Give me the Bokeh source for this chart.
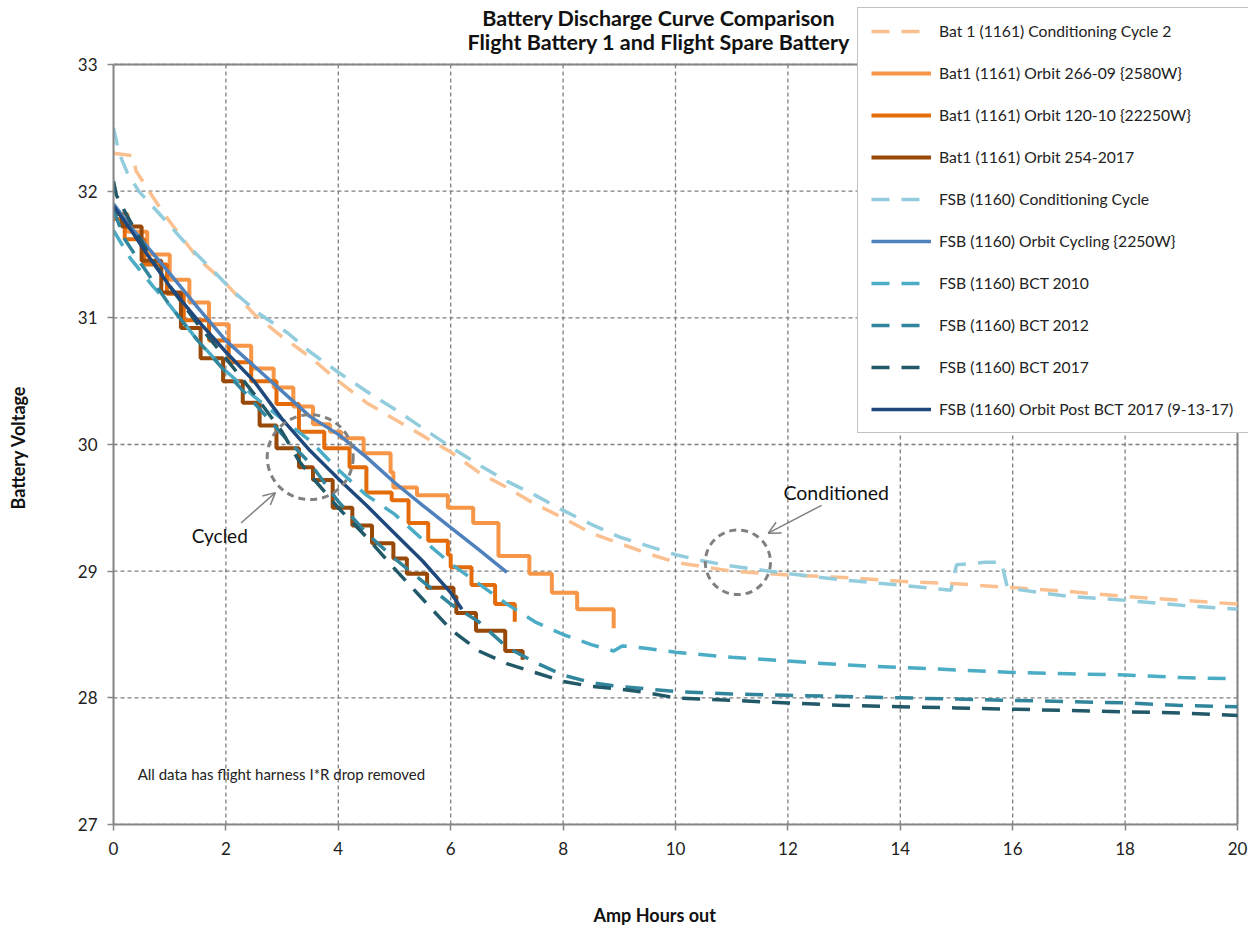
from bokeh.plotting import figure
from bokeh.models import Range1d, FixedTicker, Legend, LegendItem, Label, Arrow, OpenHead
from bokeh.embed import file_html
from bokeh.resources import INLINE

# ---------------- data (Amp-hours out, battery voltage) ----------------
x_ticks = [0, 2, 4, 6, 8, 10, 12, 14, 16, 18, 20]
y_ticks = [27, 28, 29, 30, 31, 32, 33]

title_lines = ["Battery Discharge Curve Comparison", "Flight Battery 1 and Flight Spare Battery"]
x_title = "Amp Hours out"
y_title = "Battery Voltage"

series_names = [
    "Bat 1 (1161) Conditioning Cycle 2",
    "Bat1 (1161) Orbit 266-09 {2580W}",
    "Bat1 (1161) Orbit 120-10 {22250W}",
    "Bat1 (1161) Orbit 254-2017",
    "FSB (1160) Conditioning Cycle",
    "FSB (1160) Orbit Cycling {2250W}",
    "FSB (1160) BCT 2010",
    "FSB (1160) BCT 2012",
    "FSB (1160) BCT 2017",
    "FSB (1160) Orbit Post BCT 2017 (9-13-17)",
]

bat1_cond_ah = [0, 0.35, 0.4, 0.75, 1, 1.5, 2, 2.5, 3, 3.5, 4, 4.5, 5, 5.5, 6, 6.5, 7, 7.5, 8, 8.5,
                9, 9.5, 10, 11, 12, 13, 14, 15, 16, 17, 18, 19, 20]
bat1_cond_v = [32.30, 32.28, 32.16, 31.92, 31.76, 31.47, 31.27, 31.03, 30.85, 30.69, 30.50, 30.33,
               30.20, 30.07, 29.94, 29.78, 29.66, 29.53, 29.42, 29.30, 29.22, 29.14, 29.07, 29.00,
               28.97, 28.95, 28.92, 28.90, 28.87, 28.84, 28.80, 28.77, 28.74]

bat1_o266_ah = [0, 0.25, 0.6, 1.0, 1.35, 1.7, 2.05, 2.45, 2.85, 3.2, 3.55, 3.85, 4.05, 4.45, 4.93,
                4.98, 5.4, 5.95, 6.4, 6.85, 7.4, 7.8, 8.25, 8.9]
bat1_o266_v = [31.82, 31.68, 31.50, 31.30, 31.12, 30.95, 30.78, 30.60, 30.45, 30.30, 30.16, 30.10,
               30.05, 29.93, 29.78, 29.66, 29.60, 29.50, 29.38, 29.12, 28.98, 28.83, 28.70, 28.55]

bat1_o120_ah = [0, 0.2, 0.55, 0.95, 1.25, 1.7, 2.05, 2.45, 2.9, 3.3, 3.75, 4.2, 4.5, 4.95, 5.25,
                5.6, 5.95, 6.0, 6.37, 6.79, 7.14]
bat1_o120_v = [31.78, 31.62, 31.42, 31.19, 30.98, 30.82, 30.65, 30.50, 30.32, 30.10, 29.97, 29.82,
               29.62, 29.56, 29.38, 29.24, 29.13, 29.03, 28.89, 28.74, 28.60]

bat1_o254_ah = [0, 0.15, 0.5, 0.85, 1.2, 1.55, 1.95, 2.3, 2.6, 2.9, 3.3, 3.55, 3.9, 4.25, 4.6,
                4.98, 5.22, 5.58, 6.05, 6.1, 6.45, 6.97, 7.28]
bat1_o254_v = [31.82, 31.72, 31.45, 31.20, 30.92, 30.68, 30.50, 30.33, 30.15, 29.97, 29.82, 29.72,
               29.50, 29.36, 29.22, 29.10, 28.98, 28.87, 28.80, 28.67, 28.53, 28.37, 28.30]

fsb_cond_ah = [0, 0.1, 0.25, 0.45, 0.9, 1.3, 1.8, 2.1, 2.6, 3.1, 3.5, 4, 4.5, 5, 5.5, 6, 6.5, 7,
               7.5, 8, 8.5, 9, 9.5, 10, 10.5, 11, 12, 13, 14, 14.9, 15.0, 15.5, 15.8, 15.9, 16, 17,
               18, 19, 20]
fsb_cond_v = [32.50, 32.30, 32.14, 32.00, 31.78, 31.58, 31.36, 31.22, 31.03, 30.88, 30.73, 30.57,
              30.42, 30.28, 30.13, 29.98, 29.84, 29.71, 29.60, 29.48, 29.37, 29.27, 29.20, 29.13,
              29.08, 29.04, 28.98, 28.93, 28.89, 28.85, 29.05, 29.07, 29.07, 28.88, 28.86, 28.80,
              28.77, 28.73, 28.70]

fsb_orbit_ah = [0, 0.3, 0.66, 1, 1.5, 2, 2.5, 3, 3.5, 4, 4.5, 5, 5.5, 5.9, 6.5, 7]
fsb_orbit_v = [31.90, 31.72, 31.53, 31.35, 31.08, 30.82, 30.62, 30.42, 30.22, 30.08, 29.90, 29.70,
               29.52, 29.38, 29.17, 28.99]

bct2010_ah = [0, 0.3, 0.7, 1, 1.5, 2, 2.5, 3, 3.5, 4, 4.5, 5, 5.5, 6, 6.5, 7, 7.5, 8, 8.5, 8.9,
              9.05, 9.5, 10, 11, 12, 13, 14, 15, 16, 17, 18, 19, 20]
bct2010_v = [31.69, 31.47, 31.25, 31.10, 30.82, 30.58, 30.38, 30.20, 30.03, 29.80, 29.60, 29.45,
             29.25, 29.06, 28.90, 28.74, 28.60, 28.50, 28.42, 28.37, 28.41, 28.39, 28.36, 28.32,
             28.29, 28.26, 28.24, 28.22, 28.20, 28.19, 28.18, 28.16, 28.15]

bct2012_ah = [0, 0.2, 0.5, 1, 1.5, 2, 2.5, 3, 3.5, 4, 4.5, 5, 5.5, 6, 6.5, 7, 7.5, 8, 8.5, 9, 10,
              11, 12, 13, 14, 15, 16, 17, 18, 19, 20]
bct2012_v = [31.85, 31.62, 31.42, 31.10, 30.82, 30.57, 30.33, 30.08, 29.85, 29.55, 29.30, 29.10,
             28.92, 28.74, 28.60, 28.40, 28.28, 28.18, 28.12, 28.09, 28.05, 28.03, 28.02, 28.01,
             28.00, 27.99, 27.98, 27.97, 27.96, 27.94, 27.93]

bct2017_ah = [0, 0.05, 0.2, 0.35, 0.7, 1, 1.5, 2, 2.5, 3, 3.3, 3.5, 4, 4.5, 5, 5.5, 6, 6.5, 7, 7.5,
              8, 8.5, 9, 9.5, 10, 11, 12, 13, 14, 15, 16, 17, 18, 19, 20]
bct2017_v = [32.08, 31.97, 31.84, 31.72, 31.45, 31.25, 30.95, 30.68, 30.40, 30.10, 29.87, 29.76,
             29.50, 29.27, 29.02, 28.78, 28.54, 28.37, 28.27, 28.20, 28.13, 28.09, 28.07, 28.04,
             28.00, 27.98, 27.96, 27.94, 27.93, 27.92, 27.91, 27.90, 27.89, 27.88, 27.86]

post_ah = [0, 0.3, 0.6, 1, 1.5, 2, 2.5, 3, 3.5, 4, 4.5, 5, 5.5, 6, 6.2]
post_v = [31.88, 31.70, 31.50, 31.25, 30.98, 30.73, 30.50, 30.20, 29.95, 29.73, 29.52, 29.30,
          29.08, 28.83, 28.70]

note_text = "All data has  flight harness I*R drop removed"
cycled_text = "Cycled"
conditioned_text = "Conditioned"

# ---------------- layout constants ----------------
FONT = "Lato"
GRAY = "#868686"
GRID = "#7f7f7f"
W, H = 1248, 930
LEFT, BOTTOM = 113, 106
PX_PER_AH = 56.2
PX_PER_V = 126.67
x_lo, x_hi = x_ticks[0], x_ticks[-1]
y_lo, y_hi = y_ticks[0], y_ticks[-1]
# the frame reaches the top and right edges of the canvas so that the legend and the
# title (which overlap the area outside the gridded plot area) are not clipped
x_end = x_lo + (W - LEFT) / PX_PER_AH
y_end = y_lo + (H - BOTTOM) / PX_PER_V
NBSP = "\u00a0"

p = figure(width=W, height=H, output_backend="svg", toolbar_location=None, title=None,
           x_range=Range1d(x_lo, x_end), y_range=Range1d(y_lo, y_end),
           min_border_left=LEFT, min_border_right=0, min_border_top=0, min_border_bottom=BOTTOM,
           background_fill_color="white", border_fill_color="white", outline_line_color=None)
p.grid.visible = False

# axes
p.xaxis.ticker = FixedTicker(ticks=x_ticks)
p.yaxis.ticker = FixedTicker(ticks=y_ticks)
p.xaxis.bounds = (x_lo, x_hi)
p.yaxis.bounds = (y_lo, y_hi)
for ax in (p.xaxis[0], p.yaxis[0]):
    ax.axis_line_color = GRAY
    ax.axis_line_width = 2
    ax.major_tick_line_color = GRAY
    ax.major_tick_line_width = 1.5
    ax.major_tick_out = 6
    ax.major_tick_in = 0
    ax.minor_tick_line_color = None
    ax.major_label_text_font = FONT
    ax.major_label_text_font_size = "17px"
    ax.major_label_text_color = "#222222"
    ax.axis_label_text_font = FONT
    ax.axis_label_text_font_style = "bold"
    ax.axis_label_text_color = "#111111"
    ax.axis_label_text_font_size = "18px"
# axis titles are centred on the frame; trailing no-break spaces nudge them to the
# position they have in the original chart
p.xaxis.axis_label = x_title + NBSP * 12
p.xaxis.major_label_standoff = 11
p.xaxis.axis_label_standoff = 46
p.yaxis.axis_label = y_title + NBSP * 16
p.yaxis.major_label_standoff = 10
p.yaxis.axis_label_standoff = 46

# dashed grid limited to the plot area, plus solid top/right border of the plot area
p.segment(x0=x_ticks, y0=[y_lo] * len(x_ticks), x1=x_ticks, y1=[y_hi] * len(x_ticks),
          line_color=GRID, line_width=1.3, line_dash="4 3")
p.segment(x0=[x_lo] * len(y_ticks), y0=y_ticks, x1=[x_hi] * len(y_ticks), y1=y_ticks,
          line_color=GRID, line_width=1.3, line_dash="4 3")
p.segment(x0=[x_lo, x_hi], y0=[y_hi, y_lo], x1=[x_hi, x_hi], y1=[y_hi, y_hi],
          line_color=GRAY, line_width=2)

LW = 3.5
DASH = "18 12"
r1 = p.line(bat1_cond_ah, bat1_cond_v, line_color="#FAC090", line_width=LW, line_dash=DASH)
r2 = p.step(bat1_o266_ah, bat1_o266_v, mode="after", line_color="#F79646", line_width=4)
r3 = p.step(bat1_o120_ah, bat1_o120_v, mode="after", line_color="#E46C0A", line_width=4)
r4 = p.step(bat1_o254_ah, bat1_o254_v, mode="after", line_color="#984807", line_width=4)
r5 = p.line(fsb_cond_ah, fsb_cond_v, line_color="#93CDDD", line_width=LW, line_dash=DASH)
r6 = p.line(fsb_orbit_ah, fsb_orbit_v, line_color="#4F81BD", line_width=LW)
r7 = p.line(bct2010_ah, bct2010_v, line_color="#4BACC6", line_width=LW, line_dash=DASH)
r8 = p.line(bct2012_ah, bct2012_v, line_color="#31859C", line_width=LW, line_dash=DASH)
r9 = p.line(bct2017_ah, bct2017_v, line_color="#215968", line_width=LW, line_dash=DASH)
r10 = p.line(post_ah, post_v, line_color="#1F497D", line_width=LW)
renderers = [r1, r2, r3, r4, r5, r6, r7, r8, r9, r10]

# annotation ellipses and arrows
p.ellipse(x=[3.5], y=[29.9], width=[1.53], height=[0.67], fill_alpha=0,
          line_color="#808080", line_width=3, line_dash="7 5")
p.ellipse(x=[11.11], y=[29.07], width=[1.16], height=[0.51], fill_alpha=0,
          line_color="#808080", line_width=3, line_dash="7 5")
p.add_layout(Arrow(end=OpenHead(size=12, line_color="#808080", line_width=1.5),
                   x_start=2.27, y_start=29.38, x_end=2.88, y_end=29.62,
                   line_color="#808080", line_width=1.5))
p.add_layout(Arrow(end=OpenHead(size=12, line_color="#808080", line_width=1.5),
                   x_start=12.6, y_start=29.52, x_end=11.65, y_end=29.3,
                   line_color="#808080", line_width=1.5))
p.add_layout(Label(x=1.89, y=29.28, text=cycled_text, text_font=FONT, text_font_size="19px",
                   text_align="center", text_baseline="middle", text_color="#111111"))
p.add_layout(Label(x=12.86, y=29.62, text=conditioned_text, text_font=FONT, text_font_size="19.5px",
                   text_align="center", text_baseline="middle", text_color="#111111"))
p.add_layout(Label(x=0.43, y=27.4, text=note_text, text_font=FONT, text_font_size="15px",
                   text_align="left", text_baseline="middle", text_color="#222222"))

# chart title (two centred lines above the plot area)
title_x = 9.70
for txt, ty in zip(title_lines, [33.363, 33.174]):
    p.add_layout(Label(x=title_x, y=ty, text=txt, text_font=FONT, text_font_size="21.5px",
                       text_font_style="bold", text_align="center", text_baseline="middle",
                       text_color="#111111"))

legend = Legend(items=[LegendItem(label=n, renderers=[r]) for n, r in zip(series_names, renderers)],
                location=(744, 391), label_text_font=FONT, label_text_font_size="15.7px",
                label_text_color="#222222", glyph_width=60, glyph_height=20, label_height=20,
                label_width=320, spacing=22, padding=13, label_standoff=8, margin=0,
                border_line_color=GRAY, border_line_width=1.5,
                background_fill_color="white", background_fill_alpha=1)
p.add_layout(legend)

open("out.html", "w").write(file_html(p, INLINE))
